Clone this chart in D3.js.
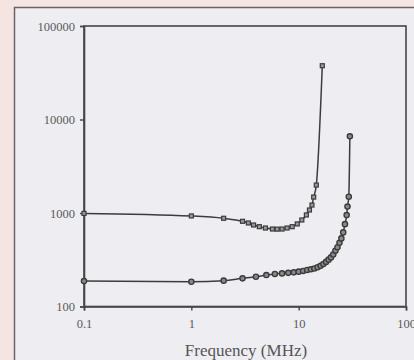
<!DOCTYPE html>
<html>
<head>
<meta charset="utf-8">
<script src="https://cdn.jsdelivr.net/npm/d3@7"></script>
<style>
  html, body { margin: 0; padding: 0; background: #f5e5e2; }
  svg { display: block; }
</style>
</head>
<body>
<div id="chart"></div>
<script>
// data (frequency in MHz, value on log axis)
const squareFreq = [0.1, 1, 2, 3, 3.4, 3.8, 4.3, 4.9, 5.7, 6.3, 7, 7.8, 8.7, 9.7, 10.7, 11.8, 12.6, 13.3, 13.8, 14.6, 16.6];
const squareVals = [990, 930, 878, 815, 782, 744, 714, 691, 674, 672, 674, 691, 714, 764, 842, 953, 1077, 1216, 1480, 1990, 37600];

const circleFreq = [0.1, 1, 2, 3, 4, 5, 6, 7, 8, 9, 10, 11, 12, 13, 14, 15, 16, 17, 18, 19, 20, 21, 22, 23, 24, 25, 26, 27, 28, 28.5, 29.3, 30];
const circleVals = [187, 184, 189, 200, 208, 217, 223, 226, 229, 232, 236, 240, 246, 250, 255, 263, 272, 285, 300, 317, 335, 360, 395, 430, 480, 535, 620, 760, 950, 1170, 1494, 6600];

const xTicks = [0.1, 1, 10, 100];
const yTicks = [100, 1000, 10000, 100000];
const xTitle = "Frequency (MHz)";

const W = 414, H = 360;
const FONT = "'Liberation Serif', 'DejaVu Serif', serif";

const svg = d3.select("#chart").append("svg")
    .attr("width", W)
    .attr("height", H);

// inner panel
svg.append("rect")
    .attr("x", 14.5).attr("y", 7.5)
    .attr("width", W).attr("height", H)
    .attr("fill", "#eeedf2")
    .attr("stroke", "#6a6468")
    .attr("stroke-width", 1.5);

const x = d3.scaleLog().domain([0.1, 100]).range([84, 406]);
const y = d3.scaleLog().domain([100, 100000]).range([306.5, 26]);

// plot frame
svg.append("rect")
    .attr("x", x(0.1)).attr("y", y(100000))
    .attr("width", x(100) - x(0.1))
    .attr("height", y(100) - y(100000))
    .attr("fill", "none")
    .attr("stroke", "#454545")
    .attr("stroke-width", 1.6);

const xAxis = svg.append("g")
    .attr("transform", `translate(0,${y(100)})`)
    .call(d3.axisBottom(x).tickValues(xTicks).tickSize(4).tickPadding(9)
        .tickFormat(d => d3.format("~g")(d)));

const yAxis = svg.append("g")
    .attr("transform", `translate(${x(0.1)},0)`)
    .call(d3.axisLeft(y).tickValues(yTicks).tickSize(4).tickPadding(5)
        .tickFormat(d => String(d)));

[xAxis, yAxis].forEach(g => {
    g.select(".domain").attr("stroke", "#454545").attr("stroke-width", 1.6);
    g.selectAll(".tick line").attr("stroke", "#454545").attr("stroke-width", 1.4);
    g.selectAll("text")
        .attr("fill", "#5a5a5a")
        .style("font-family", FONT)
        .style("font-size", "12.5px");
});

svg.append("text")
    .attr("x", 246).attr("y", 356)
    .attr("text-anchor", "middle")
    .attr("fill", "#555")
    .style("font-family", FONT)
    .style("font-size", "17px")
    .text(xTitle);

const line = d3.line()
    .x(d => x(d[0]))
    .y(d => y(d[1]))
    .curve(d3.curveMonotoneX);

const squares = squareFreq.map((f, i) => [f, squareVals[i]]);
const circles = circleFreq.map((f, i) => [f, circleVals[i]]);

svg.append("path")
    .datum(squares)
    .attr("d", line)
    .attr("fill", "none")
    .attr("stroke", "#3c3c3c")
    .attr("stroke-width", 1.5);

svg.append("path")
    .datum(circles)
    .attr("d", line)
    .attr("fill", "none")
    .attr("stroke", "#3c3c3c")
    .attr("stroke-width", 1.5);

svg.append("g")
    .selectAll("rect")
    .data(squares)
    .join("rect")
    .attr("x", d => x(d[0]) - 2)
    .attr("y", d => y(d[1]) - 2)
    .attr("width", 4)
    .attr("height", 4)
    .attr("fill", "#9a9a9a")
    .attr("stroke", "#3c3c3c")
    .attr("stroke-width", 1.2);

svg.append("g")
    .selectAll("circle")
    .data(circles)
    .join("circle")
    .attr("cx", d => x(d[0]))
    .attr("cy", d => y(d[1]))
    .attr("r", 2.6)
    .attr("fill", "#8a8a8a")
    .attr("stroke", "#3c3c3c")
    .attr("stroke-width", 1.4);
</script>
</body>
</html>
